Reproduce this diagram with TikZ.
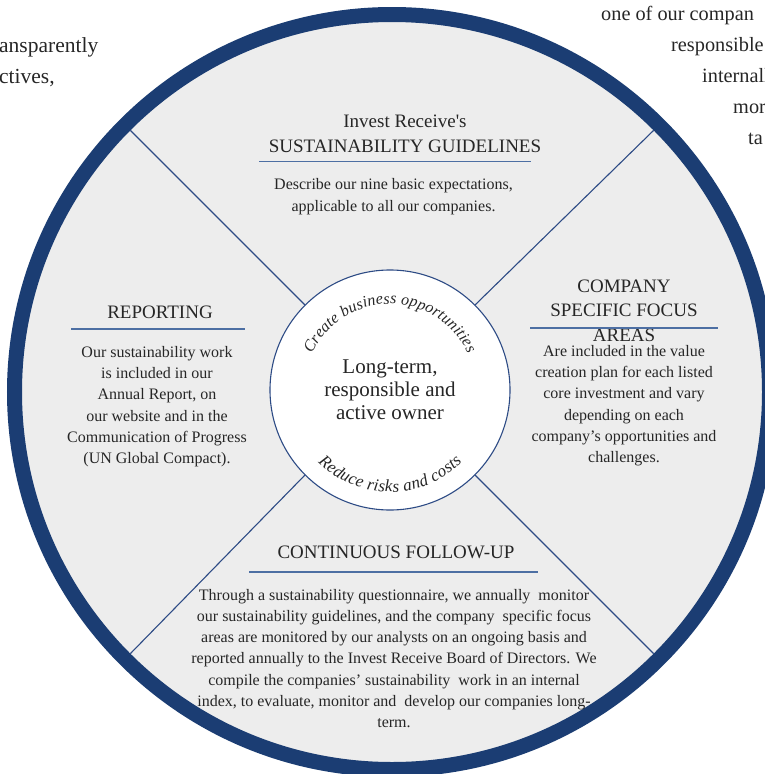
\documentclass[tikz,border=0pt]{standalone}
\usepackage{fontspec}
\setmainfont{Liberation Serif}[Ligatures=TeXOff]
\usetikzlibrary{decorations.text,calc}
\definecolor{navy}{HTML}{1B3D73}
\definecolor{linecol}{HTML}{2D4B85}
\definecolor{ulcol}{HTML}{4D6FA3}
\definecolor{bgcol}{HTML}{EDEDED}
\definecolor{txt}{HTML}{262626}
\begin{document}
\begin{tikzpicture}[x=1pt,y=1pt,
  head/.style={text=txt, font=\fontsize{19}{24.5}\selectfont, align=center, inner sep=0pt, anchor=base},
  body/.style={text=txt, font=\fontsize{16}{21.25}\selectfont, align=center, inner sep=0pt, anchor=base},
  frag/.style={text=txt, font=\fontsize{21.5}{31}\selectfont, inner sep=0pt, anchor=base west},
  fragr/.style={frag, font=\fontsize{20.3}{31}\selectfont},
  rulel/.style={draw=ulcol, line width=1.1pt},
  spoke/.style={draw=linecol, line width=1.1pt},
  hubstyle/.style={circle, draw=linecol, fill=white, line width=1.1pt, minimum size=240pt, inner sep=0pt,
    text=txt, font=\fontsize{21}{23}\selectfont, align=center}
]
\useasboundingbox (0,0) rectangle (765,-774);
\coordinate (C) at (392,-392);
\fill[bgcol] (C) circle[radius=378];
\draw[navy, line width=15pt] (C) circle[radius=377.5];

% outside text fragments
\node[frag] (f1) at (-1,-52) {ansparently};
\node[frag] (f2) at (-1,-83) {ctives,};
\node[fragr] (f3) at (601,-20) {one of our compan};
\node[fragr] (f4) at (671,-51) {responsible};
\node[fragr] (f5) at (702,-82) {internall};
\node[fragr] (f6) at (733,-113) {mor};
\node[fragr] (f7) at (748,-144) {ta};

% hub
\node[hubstyle] (hub) at (390,-390) {Long-term,\\responsible and\\active owner};
\coordinate (o1) at ($(C)+(45:370)$);
\coordinate (o2) at ($(C)+(135:370)$);
\coordinate (o3) at ($(C)+(225:370)$);
\coordinate (o4) at ($(C)+(315:370)$);
\draw[spoke] (hub.45) -- (o1);
\draw[spoke] (hub.135) -- (o2);
\draw[spoke] (hub.225) -- (o3);
\draw[spoke] (hub.315) -- (o4);

% arc texts
\path[decorate, decoration={text along path, text color=txt,
  text={|\fontsize{16}{16}\selectfont\itshape|Create business opportunities},
  text align={fit to path}}]
  ($(hub.center)+(155:86)$) arc[start angle=155, end angle=25, radius=86];
\path[decorate, decoration={text along path, text color=txt,
  text={|\fontsize{17}{17}\selectfont\itshape|Reduce risks and costs},
  text align={fit to path}}]
  ($(hub.center)+(225:102)$) arc[start angle=225, end angle=315, radius=102];

% top
\node[head] (gh) at (405,-152) {Invest Receive's\\SUSTAINABILITY GUIDELINES};
\draw[rulel] (259,-161.7) -- (531,-161.7);
\node[body] (gb) at (393.5,-211) {Describe our nine basic expectations,\\applicable to all our companies.};

% left
\node[head] (rh) at (160,-318) {REPORTING};
\draw[rulel] (71,-329) -- (245,-329);
\node[body] (rb) at (157,-463.5) {Our sustainability work\\is included in our\\Annual Report, on\\our website and in the\\Communication of Progress\\(UN Global Compact).};

% right
\node[head] (ch) at (624,-341) {COMPANY\\SPECIFIC FOCUS\\AREAS};
\draw[rulel] (530,-328) -- (718,-328);
\node[body] (cb) at (624,-462.5) {Are included in the value\\creation plan for each listed\\core investment and vary\\depending on each\\company’s opportunities and\\challenges.};

% bottom
\node[head] (fh) at (396,-558) {CONTINUOUS FOLLOW-UP};
\draw[rulel] (249,-572) -- (538,-572);
\node[body] (fb) at (394,-727.5) {Through a sustainability questionnaire, we annually\ \ monitor\\our sustainability guidelines, and the company\ \ specific focus\\areas are monitored by our analysts on an ongoing basis and\\reported annually to the Invest Receive Board of Directors. We\\compile the companies’ sustainability\ \ work in an internal\\index, to evaluate, monitor and\ \ develop our companies long-\\term.};
\end{tikzpicture}
\end{document}
